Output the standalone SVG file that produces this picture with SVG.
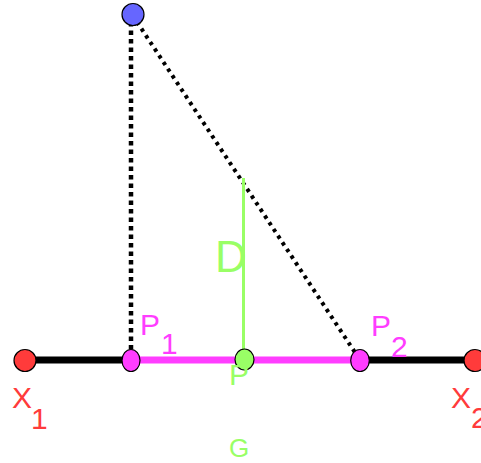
<svg xmlns="http://www.w3.org/2000/svg" width="481" height="463" viewBox="0 0 481 463">
<style>
text{font-family:"Liberation Sans",Arial,sans-serif;font-size:30px}
.red{fill:#ff3b3b}.mag{fill:#ff3dff}.grn{fill:#99ff66}
.pt{stroke:#000;stroke-width:1.2}
</style>
<rect width="481" height="463" fill="#fff"/>
<g id="connectors">
<line x1="25" y1="360" x2="131" y2="360" stroke="#000" stroke-width="7"/>
<line x1="360" y1="360" x2="475" y2="360" stroke="#000" stroke-width="7"/>
<line x1="131" y1="360" x2="360" y2="360" stroke="#ff3dff" stroke-width="7"/>
<line x1="131" y1="22" x2="131" y2="352" stroke="#000" stroke-width="4.5" stroke-dasharray="4.5 4"/>
<line x1="137" y1="22" x2="360" y2="360" stroke="#000" stroke-width="4" stroke-dasharray="3.5 4.5"/>
<line x1="243.5" y1="178" x2="243.5" y2="360" stroke="#99ff66" stroke-width="3"/>
</g>
<g id="node-top"><circle cx="133" cy="14.5" r="11" fill="#6666ff" class="pt"/></g>
<g id="node-X1"><circle cx="25" cy="360.5" r="11" class="pt red"/>
<text x="12" y="408" class="red">X</text><text x="31" y="429" class="red">1</text></g>
<g id="node-P1"><ellipse cx="131" cy="360.5" rx="9" ry="11" class="pt mag"/>
<text x="140" y="335" class="mag">P</text><text x="161" y="354" class="mag">1</text></g>
<g id="node-P"><ellipse cx="244.5" cy="359.5" rx="9.5" ry="10.5" class="pt grn"/>
<text x="229" y="385" class="grn">P</text></g>
<g id="node-P2"><ellipse cx="360" cy="360.5" rx="9.3" ry="11" class="pt mag"/>
<text x="371" y="336" class="mag">P</text><text x="391" y="357" class="mag">2</text></g>
<g id="node-X2"><circle cx="475" cy="360.5" r="11" class="pt red"/>
<text x="451" y="408" class="red">X</text><text x="471" y="428" class="red">2</text></g>
<g id="label-D"><text x="215" y="272" class="grn" style="font-size:44px">D</text></g>
<g id="label-G"><text x="229" y="457" class="grn" style="font-size:26px">G</text></g>
</svg>
